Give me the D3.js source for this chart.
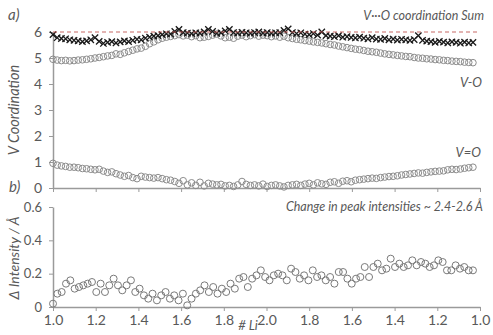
<!DOCTYPE html>
<html>
<head>
<meta charset="utf-8">
<script src="https://cdn.jsdelivr.net/npm/d3@7"></script>
<style>
  html, body { margin: 0; padding: 0; background: #fff; }
  svg text { font-family: Lato, 'Open Sans', sans-serif; fill: #595959; }
</style>
</head>
<body>
<div id="chart"></div>
<script>
// x tick labels: # Li goes 1.0 -> 2.0 -> 1.0
const liTicks = [0, 0.2, 0.4, 0.6, 0.8, 1.0, 1.2, 1.4, 1.6, 1.8, 2.0];
const liLabels = ['1.0', '1.2', '1.4', '1.6', '1.8', '2.0', '1.8', '1.6', '1.4', '1.2', '1.0'];
const xEnd = 1.967; // position of the last measured step on the path

const coordTicks = [0, 1, 2, 3, 4, 5, 6];
const intensTicks = [0, 0.2, 0.4, 0.6];

// V...O coordination sum (x markers)
const sumCoord = [
  5.90, 5.78, 5.75, 5.74, 5.70, 5.68, 5.66, 5.63, 5.66, 5.70,
  5.78, 5.64, 5.56, 5.60, 5.63, 5.58, 5.62, 5.66, 5.63, 5.68,
  5.72, 5.70, 5.76, 5.80, 5.84, 5.86, 5.90, 5.93, 5.92, 6.02,
  6.10, 5.98, 5.96, 5.94, 5.97, 5.96, 6.00, 6.10, 6.02, 5.95,
  5.97, 6.04, 6.10, 5.98, 5.96, 5.99, 5.97, 5.95, 5.98, 6.00,
  5.96, 5.98, 5.95, 5.97, 5.98, 6.06, 6.12, 5.98, 5.94, 5.97,
  5.92, 5.90, 5.94, 5.88, 6.00, 5.86, 5.84, 5.82, 5.86, 5.80,
  5.82, 5.79, 5.77, 5.80, 5.76, 5.74, 5.78, 5.73, 5.72, 5.75,
  5.70, 5.73, 5.69, 5.72, 5.70, 5.68, 5.71, 5.86, 5.68, 5.65,
  5.63, 5.60, 5.64, 5.61, 5.58, 5.62, 5.60, 5.57, 5.61, 5.58, 5.60
];

// V-O coordination
const vO = [
  4.95, 4.92, 4.90, 4.91, 4.89, 4.90, 4.92, 4.93, 4.95, 4.97,
  5.00, 5.02, 5.05, 5.08, 5.10, 5.16, 5.14, 5.20, 5.25, 5.30,
  5.35, 5.38, 5.45, 5.55, 5.62, 5.70, 5.76, 5.80, 5.83, 5.86,
  5.90, 5.85, 5.88, 5.82, 5.86, 5.78, 5.80, 5.83, 5.88, 5.92,
  5.85, 5.78, 5.80, 5.76, 5.84, 5.88, 5.82, 5.86, 5.90, 5.84,
  5.88, 5.86, 5.82, 5.85, 5.80, 5.84, 5.78, 5.75, 5.72, 5.70,
  5.67, 5.65, 5.62, 5.60, 5.58, 5.55, 5.52, 5.50, 5.46, 5.43,
  5.40, 5.37, 5.34, 5.32, 5.29, 5.26, 5.24, 5.22, 5.19, 5.16,
  5.14, 5.12, 5.10, 5.08, 5.06, 5.05, 5.02, 5.00, 4.99, 4.97,
  4.96, 4.94, 4.93, 4.91, 4.90, 4.88, 4.87, 4.86, 4.84, 4.83, 4.82
];

// V=O coordination
const vdO = [
  0.95, 0.88, 0.85, 0.83, 0.80, 0.80, 0.78, 0.75, 0.74, 0.72,
  0.70, 0.72, 0.65, 0.60, 0.62, 0.55, 0.50, 0.45, 0.48, 0.40,
  0.36, 0.45, 0.42, 0.40, 0.38, 0.40, 0.36, 0.32, 0.30, 0.25,
  0.18, 0.28, 0.12, 0.20, 0.10, 0.22, 0.08, 0.18, 0.15, 0.12,
  0.14, 0.08, 0.10, 0.06, 0.12, 0.25, 0.14, 0.10, 0.12, 0.08,
  0.15, 0.06, 0.10, 0.12, 0.08, 0.04, 0.10, 0.12, 0.14, 0.10,
  0.15, 0.18, 0.12, 0.20, 0.16, 0.14, 0.22, 0.24, 0.18, 0.26,
  0.28, 0.24, 0.30, 0.32, 0.34, 0.36, 0.38, 0.37, 0.40, 0.42,
  0.44, 0.45, 0.47, 0.50, 0.52, 0.54, 0.56, 0.58, 0.57, 0.60,
  0.62, 0.64, 0.65, 0.66, 0.70, 0.72, 0.71, 0.73, 0.76, 0.78, 0.80
];

// change in peak intensities ~2.4-2.6 A
const dIntensity = [
  0.02, 0.08, 0.09, 0.14, 0.16, 0.11, 0.12, 0.13, 0.14, 0.15,
  0.09, 0.14, 0.09, 0.13, 0.17, 0.13, 0.10, 0.13, 0.16, 0.09,
  0.11, 0.07, 0.05, 0.08, 0.04, 0.07, 0.09, 0.05, 0.07, 0.04,
  0.08, 0.01, 0.05, 0.08, 0.10, 0.13, 0.09, 0.12, 0.08, 0.11,
  0.09, 0.14, 0.11, 0.17, 0.18, 0.12, 0.17, 0.19, 0.22, 0.18,
  0.16, 0.19, 0.20, 0.19, 0.16, 0.23, 0.21, 0.17, 0.19, 0.16,
  0.22, 0.18, 0.19, 0.16, 0.18, 0.14, 0.21, 0.21, 0.17, 0.14,
  0.17, 0.18, 0.24, 0.18, 0.24, 0.26, 0.22, 0.23, 0.29, 0.24,
  0.26, 0.24, 0.25, 0.28, 0.25, 0.27, 0.26, 0.24, 0.25, 0.28,
  0.27, 0.22, 0.22, 0.25, 0.23, 0.24, 0.22, 0.22
];

const W = 493, H = 335;
const svg = d3.select('#chart').append('svg').attr('width', W).attr('height', H);

const x = d3.scaleLinear().domain([0, 2]).range([53, 480]);
const yTop = d3.scaleLinear().domain([0, 6]).range([188, 32]);
const yBot = d3.scaleLinear().domain([0, 0.6]).range([307, 207]);

const pos = (arr) => arr.map((v, i) => ({ x: i / (arr.length - 1) * xEnd, y: v }));

function styleAxis(g) {
  g.select('.domain').attr('stroke', '#9a9a9a').attr('stroke-width', 1.5);
  g.selectAll('.tick line').attr('stroke', '#9a9a9a').attr('stroke-width', 1);
  g.selectAll('.tick text').style('font-size', '14px').attr('fill', '#595959');
}

// ---- top panel axes
svg.append('g')
  .attr('transform', 'translate(0,188)')
  .call(d3.axisBottom(x).tickValues(liTicks).tickSize(4).tickSizeOuter(0).tickFormat(''))
  .call(styleAxis);
svg.append('g')
  .attr('transform', 'translate(53,0)')
  .call(d3.axisLeft(yTop).tickValues(coordTicks).tickSize(4).tickSizeOuter(0).tickPadding(7).tickFormat(d3.format('d')))
  .call(styleAxis);

// ---- bottom panel axes
svg.append('g')
  .attr('transform', 'translate(0,307)')
  .call(d3.axisBottom(x).tickValues(liTicks).tickSize(4).tickSizeOuter(0).tickPadding(4)
    .tickFormat((d, i) => liLabels[i]))
  .call(styleAxis);
svg.append('g')
  .attr('transform', 'translate(53,0)')
  .call(d3.axisLeft(yBot).tickValues(intensTicks).tickSize(4).tickSizeOuter(0).tickPadding(7)
    .tickFormat(d => d === 0 ? '0' : d3.format('.1f')(d)))
  .call(styleAxis)
  .call(g => g.selectAll('.tick text').style('font-size', '13px'));

// ---- top panel marks
const topG = svg.append('g');
topG.selectAll('circle.vo')
  .data(pos(vO)).enter().append('circle')
  .attr('class', 'vo')
  .attr('cx', d => x(d.x)).attr('cy', d => yTop(d.y)).attr('r', 3.3)
  .attr('fill', 'none').attr('stroke', '#8c8c8c').attr('stroke-width', 1);

topG.selectAll('circle.vdo')
  .data(pos(vdO)).enter().append('circle')
  .attr('class', 'vdo')
  .attr('cx', d => x(d.x)).attr('cy', d => yTop(d.y)).attr('r', 3.3)
  .attr('fill', 'none').attr('stroke', '#8c8c8c').attr('stroke-width', 1);

const cross = d3.symbol().type(d3.symbolTimes).size(28);
topG.selectAll('path.sum')
  .data(pos(sumCoord)).enter().append('path')
  .attr('class', 'sum')
  .attr('d', cross)
  .attr('transform', d => `translate(${x(d.x)},${yTop(d.y)})`)
  .attr('fill', '#111').attr('stroke', '#1a1a1a').attr('stroke-width', 1.3);

topG.append('line')
  .attr('x1', x(0)).attr('x2', x(xEnd + 0.02))
  .attr('y1', yTop(6)).attr('y2', yTop(6))
  .attr('stroke', '#c0504d').attr('stroke-width', 1.2)
  .attr('stroke-dasharray', '4,3').attr('opacity', 0.85);

// ---- bottom panel marks
svg.append('g').selectAll('circle')
  .data(pos(dIntensity)).enter().append('circle')
  .attr('cx', d => x(d.x)).attr('cy', d => yBot(d.y)).attr('r', 3.5)
  .attr('fill', 'none').attr('stroke', '#7a7a7a').attr('stroke-width', 1);

// ---- texts
const txt = (t, px, py, opts = {}) => svg.append('text')
  .attr('x', px).attr('y', py)
  .attr('text-anchor', opts.anchor || 'start')
  .style('font-size', (opts.size || 12) + 'px')
  .style('font-style', opts.style || 'italic')
  .attr('transform', opts.rotate ? `rotate(-90,${px},${py})` : null)
  .text(t);

txt('a)', 8, 20, { size: 15 });
txt('b)', 9, 192, { size: 15 });
txt('V\u00B7\u00B7\u00B7O coordination Sum', 484, 20, { anchor: 'end', size: 12.5 });
txt('V-O', 482, 87, { anchor: 'end', size: 13 });
txt('V=O', 481, 157, { anchor: 'end', size: 13 });
txt('Change in peak intensities ~ 2.4-2.6 \u00C5', 483, 211, { anchor: 'end', size: 12.5 });
txt('V Coordination', 19, 110, { anchor: 'middle', size: 14.5, rotate: true });
txt('\u0394 Intensity / \u00C5', 19, 258, { anchor: 'middle', size: 14, rotate: true });
txt('# Li', 248, 330, { anchor: 'middle', size: 13 });
</script>
</body>
</html>
